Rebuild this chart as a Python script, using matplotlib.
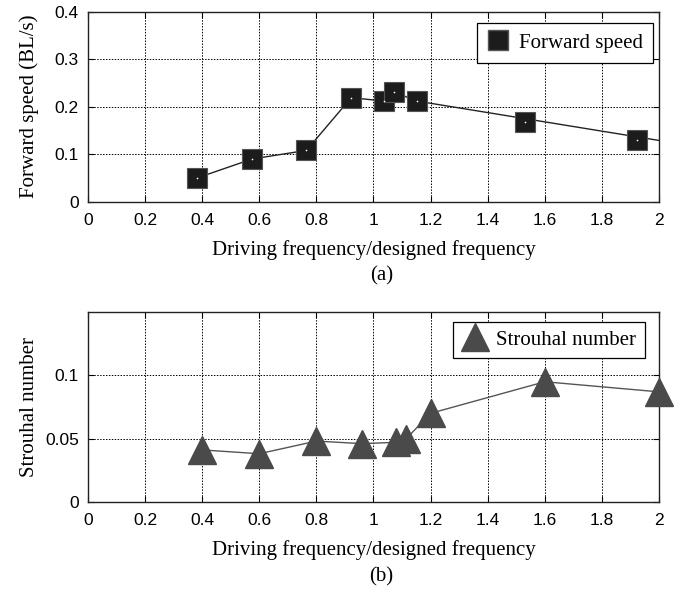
import matplotlib
matplotlib.use("Agg")
import matplotlib.pyplot as plt
from matplotlib.lines import Line2D

# ---- data (a) forward speed ----
speed_x = [0.382, 0.575, 0.765, 0.922, 1.036, 1.072, 1.151, 1.532, 1.924]
speed_y = [0.050, 0.090, 0.108, 0.219, 0.212, 0.231, 0.212, 0.168, 0.129]
# trend line drawn in (a)
speed_line_x = [0.382, 0.575, 0.765, 0.922, 1.036, 1.072, 1.151, 2.0]
speed_line_y = [0.050, 0.090, 0.108, 0.219, 0.212, 0.231, 0.212, 0.129]

# ---- data (b) Strouhal number ----
st_x = [0.4, 0.6, 0.8, 0.958, 1.078, 1.115, 1.2, 1.6, 2.0]
st_y = [0.041, 0.038, 0.048, 0.046, 0.047, 0.050, 0.070, 0.095, 0.087]

xticks = [0, 0.2, 0.4, 0.6, 0.8, 1.0, 1.2, 1.4, 1.6, 1.8, 2.0]
xticklabels = ["0", "0.2", "0.4", "0.6", "0.8", "1", "1.2", "1.4", "1.6", "1.8", "2"]
yticks_a = [0, 0.1, 0.2, 0.3, 0.4]
yticklabels_a = ["0", "0.1", "0.2", "0.3", "0.4"]
yticks_b = [0, 0.05, 0.1]
yticklabels_b = ["0", "0.05", "0.1"]

serif = ["Liberation Serif", "DejaVu Serif"]
sans = ["Liberation Sans", "DejaVu Sans"]

fig = plt.figure(figsize=(6.83, 5.94), dpi=100)
ax1 = fig.add_axes([0.1288, 0.6604, 0.8361, 0.3199])
ax2 = fig.add_axes([0.1288, 0.1554, 0.8361, 0.3188])


def style(ax, yt, ytl, ylim):
    ax.set_xlim(0, 2)
    ax.set_ylim(*ylim)
    ax.set_xticks(xticks)
    ax.set_xticklabels(xticklabels, fontfamily=sans, fontsize=12.5)
    ax.set_yticks(yt)
    ax.set_yticklabels(ytl, fontfamily=sans, fontsize=12.5)
    ax.tick_params(direction="in", length=4, width=0.8, top=True, right=True, pad=6.5)
    ax.tick_params(axis="x", pad=8)
    ax.grid(True, color="black", linestyle=(0, (1.5, 1.5)), linewidth=0.7)
    ax.set_axisbelow(True)
    for s in ax.spines.values():
        s.set_linewidth(1.0)
        s.set_color("#222222")
    ax.set_xlabel("Driving frequency/designed frequency", fontfamily=serif, fontsize=15, labelpad=8.6)


style(ax1, yticks_a, yticklabels_a, (0, 0.4))
style(ax2, yticks_b, yticklabels_b, (0, 0.15))

# (a)
ax1.plot(speed_line_x, speed_line_y, color="#222222", linewidth=1.0, zorder=3, clip_on=True)
ax1.plot(speed_x, speed_y, linestyle="none", marker="s", markersize=15,
         markerfacecolor="#1c1c1c", markeredgecolor="#555555", markeredgewidth=0.8, zorder=4)
ax1.plot(speed_x, speed_y, linestyle="none", marker="o", markersize=1.2,
         markerfacecolor="white", markeredgecolor="white", markeredgewidth=0, zorder=5)
ax1.set_ylabel("Forward speed (BL/s)", fontfamily=serif, fontsize=15)
ax1.yaxis.set_label_coords(-0.086, 0.5)
h1 = Line2D([], [], linestyle="none", marker="s", markersize=15,
            markerfacecolor="#1c1c1c", markeredgecolor="#555555")
leg1 = ax1.legend([h1], ["Forward speed"], loc="upper right", prop={"family": serif, "size": 15},
                  frameon=True, fancybox=False, edgecolor="black", framealpha=1,
                  handlelength=1.0, handletextpad=0.5, borderpad=0.5, borderaxespad=0,
                  bbox_to_anchor=(0.9895, 0.942))
leg1.get_frame().set_linewidth(0.9)

# (b)
ax2.plot(st_x, st_y, color="#555555", linewidth=1.0, zorder=3,
         marker="^", markersize=20, markerfacecolor="#4a4a4a", markeredgecolor="#4a4a4a",
         clip_on=False)
ax2.set_ylabel("Strouhal number", fontfamily=serif, fontsize=15)
ax2.yaxis.set_label_coords(-0.086, 0.5)
h2 = Line2D([], [], linestyle="none", marker="^", markersize=20,
            markerfacecolor="#4a4a4a", markeredgecolor="#4a4a4a")
leg2 = ax2.legend([h2], ["Strouhal number"], loc="upper right", prop={"family": serif, "size": 15},
                  frameon=True, fancybox=False, edgecolor="black", framealpha=1,
                  handlelength=1.3, handletextpad=0.4, borderpad=0.4, borderaxespad=0,
                  bbox_to_anchor=(0.975, 0.95))
leg2.get_frame().set_linewidth(0.9)

fig.text(0.5585, 1 - 276 / 594, "(a)", ha="center", va="center", fontfamily=serif, fontsize=15)
fig.text(0.5585, 1 - 577 / 594, "(b)", ha="center", va="center", fontfamily=serif, fontsize=15)

fig.savefig("out.png", dpi=100)
